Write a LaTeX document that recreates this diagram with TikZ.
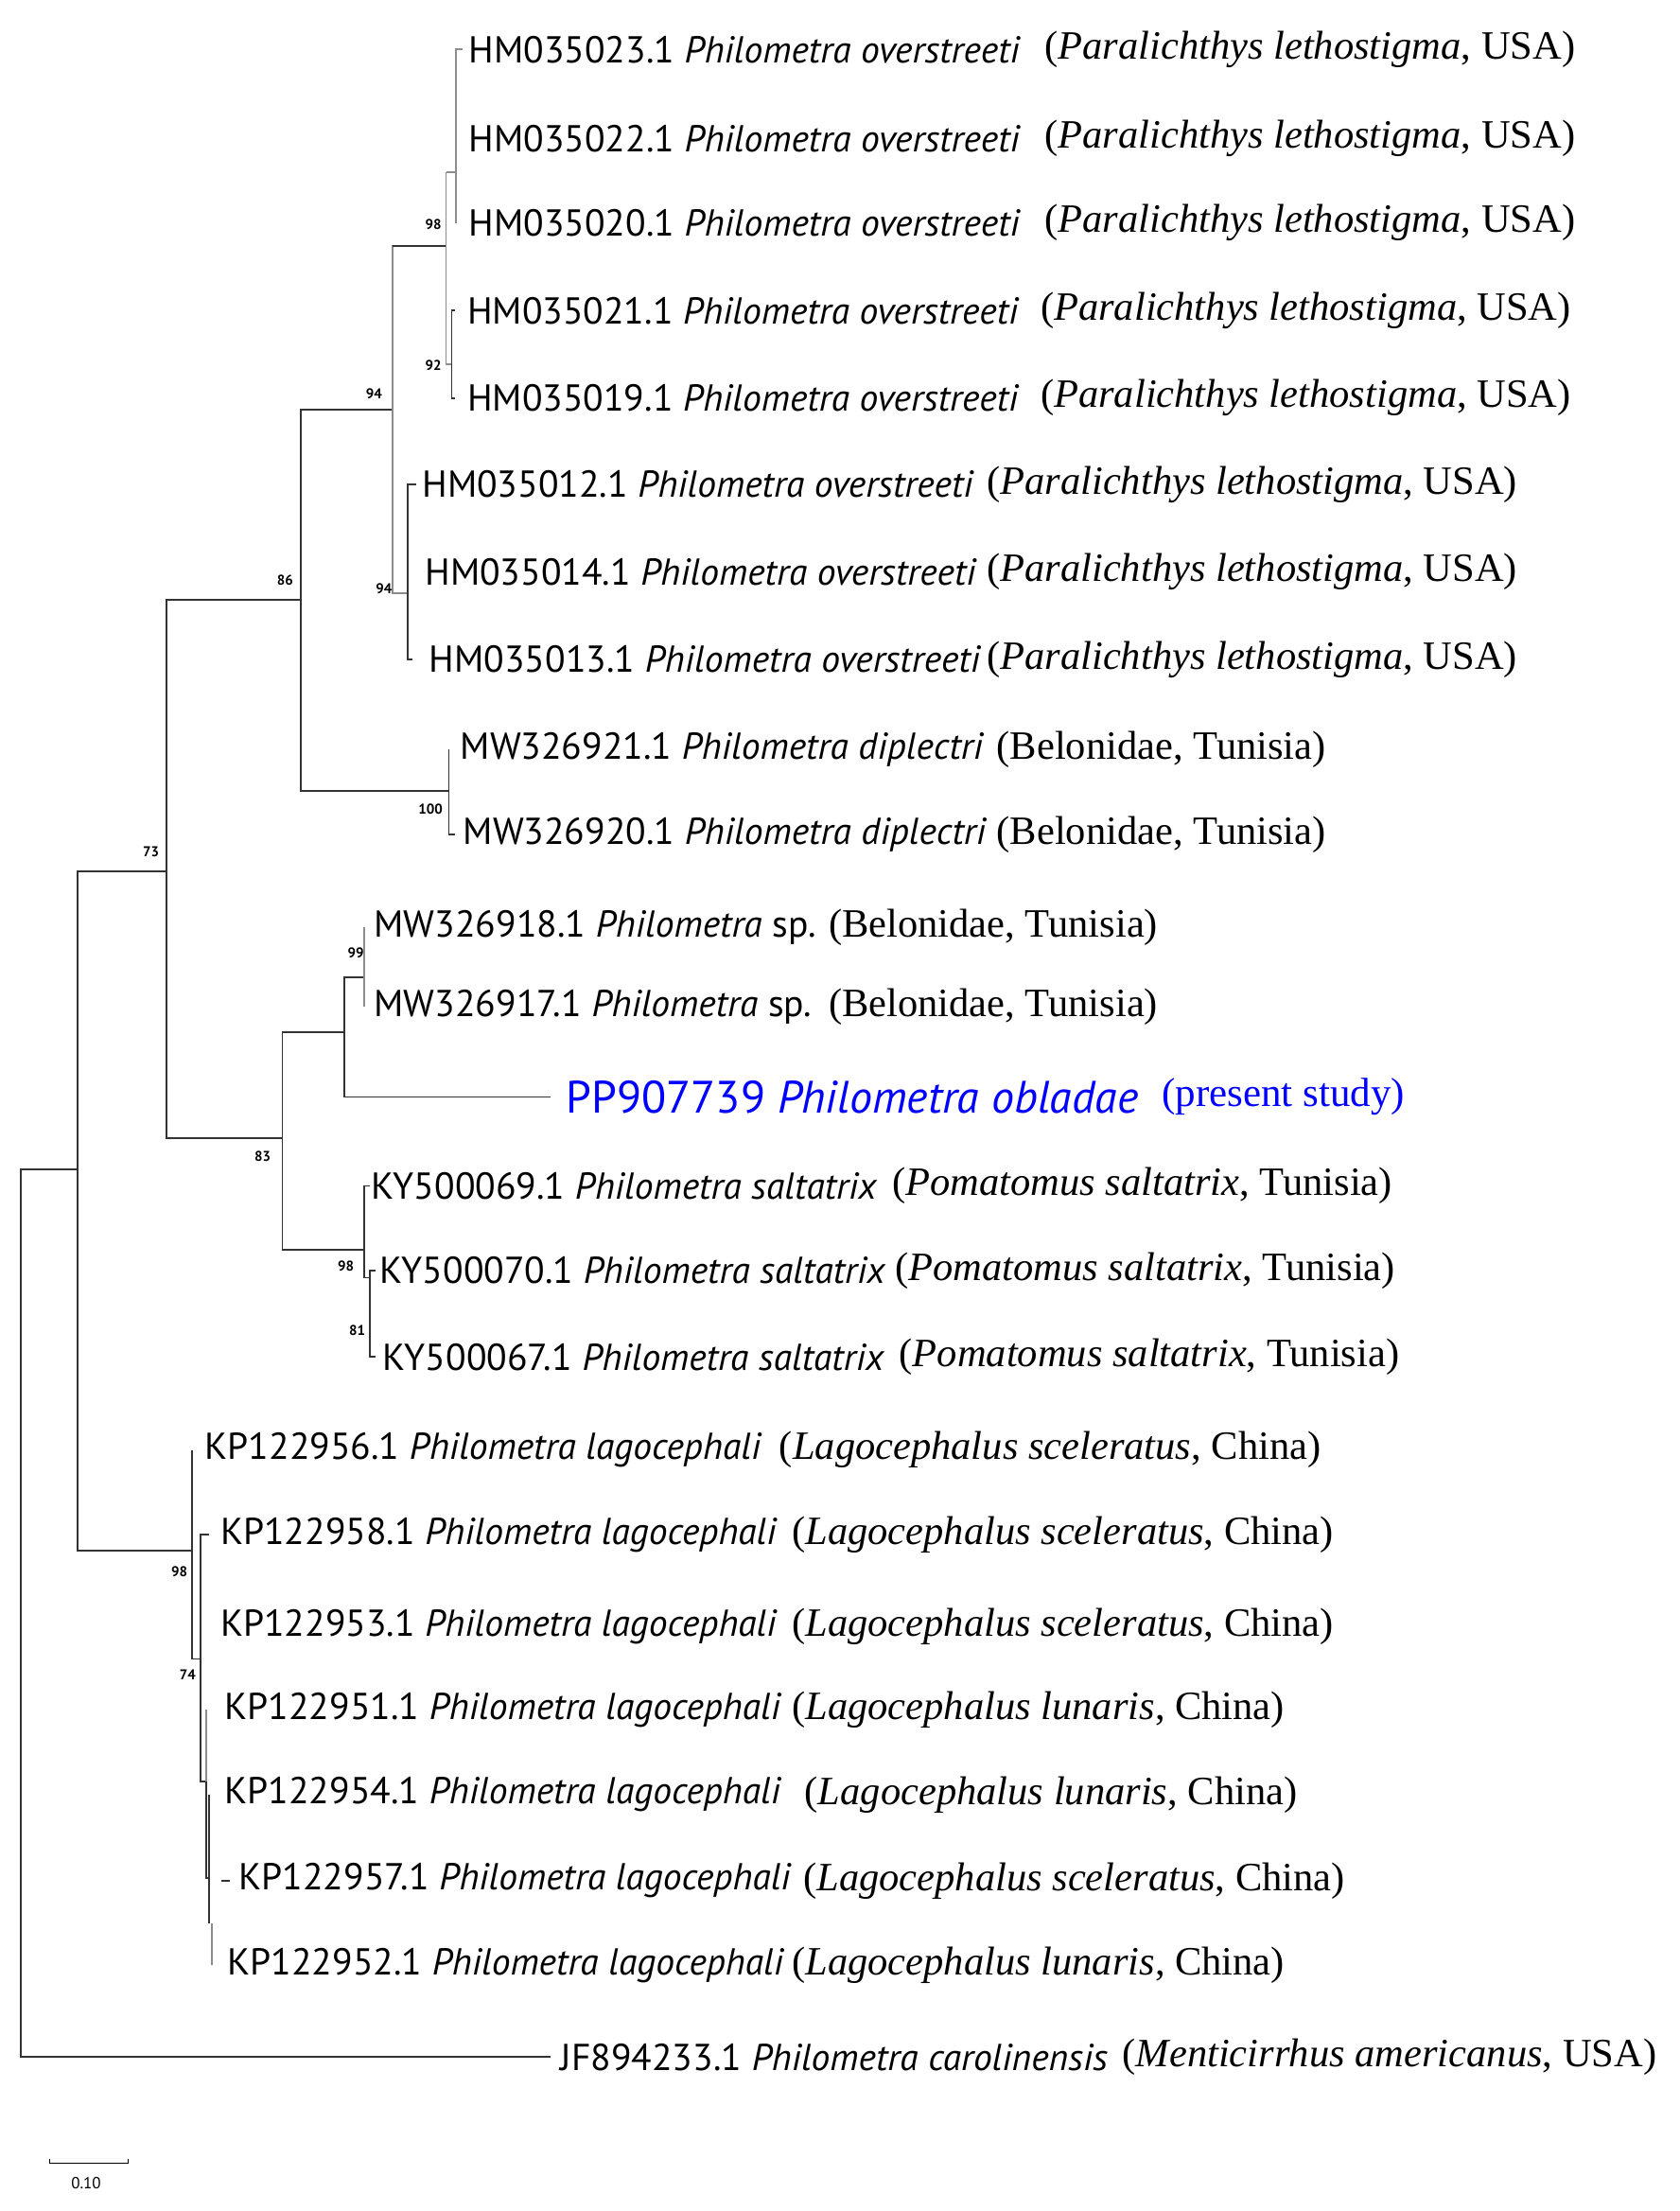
\documentclass[tikz,border=0pt]{standalone}
\usepackage{fontspec}
\setmainfont{Liberation Serif}
\newfontfamily\labsans{PT Sans}
\begin{document}
\begin{tikzpicture}[x=1.4925pt,y=-1.4925pt,
  br/.style={line width=1.8pt,draw=black!80},
  lb/.style={line width=1.8pt,draw=black!45},
  tip/.style={anchor=west,inner sep=0pt,font=\labsans\fontsize{39.6}{42}\selectfont},
  host/.style={anchor=west,inner sep=0pt,font=\fontsize{42.5}{46}\selectfont},
  bs/.style={inner sep=0pt,font=\labsans\bfseries\fontsize{15}{16}\selectfont}]
\useasboundingbox (0,0) rectangle (1190,1566);
% root
\draw[br] (55,828) -| (15,1457) -- (390,1457);
\draw[br] (15,828) -- (55,828);
\draw[br] (118,617) -| (55,1098) -- (136,1098);
\draw[br] (55,617) -- (118,617);
\draw[br] (213,425) -| (118,806) -- (200,806);
\draw[br] (118,425) -- (213,425);
\draw[br] (278,290) -| (213,560) -- (318,560);
\draw[br] (213,290) -- (278,290);
\draw[lb] (316,174) -| (278,420) -- (289,420);
\draw[br] (278,174) -- (316,174);
\draw[lb] (323,122) |- (316,122);
\draw[lb] (316,122) -- (316,258) -- (320,258);
\draw[lb] (328,35) -- (323,35) -- (323,158);
\draw[br] (322,220) -- (320,220) -- (320,282) -- (322,282);
\draw[br] (295,343) -- (289,343) -- (289,467) -- (292,467);
\draw[br] (318,531) -- (318,591) -- (322,591);
% 83 clade
\draw[br] (244,731) -| (200,885) -- (258,885);
\draw[br] (200,731) -- (244,731);
\draw[br] (258,692) -| (244,777) -- (390,777);
\draw[br] (244,692) -- (258,692);
\draw[lb] (258,657) -- (258,713);
\draw[br] (262,840) -- (258,840) -- (258,905) -- (262,905);
\draw[br] (266,900) -- (262,900) -- (262,961) -- (266,961);
% KP clade
\draw[br] (136,1027) -- (136,1175) -- (142,1175);
\draw[br] (148,1087) -- (142,1087) -- (142,1262) -- (146,1262);
\draw[lb] (146,1211) -- (146,1330);
\draw[br] (146,1262) -- (146,1330) -- (148,1330);
\draw[br] (148,1271) -- (148,1362);
\draw[br] (163,1332) -- (157,1332);
\draw[lb] (150,1362) -- (150,1392);
% bootstrap
\foreach \x/\y/\t in {307/159/98,307/259/92,265/279/94,272/417/94,202/411/86,305/573/100,107/603/73,252/675/99,186/819/83,245/897/98,253/942/81,127/1113/98,133/1186/74}
  \node[bs] at (\x,\y) {\t};
% tips
\foreach \y/\id/\xs/\xh in {35/HM035023.1/332/740,98/HM035022.1/332/740,158/HM035020.1/332/740,220/HM035021.1/331/737,282/HM035019.1/331/737}
 {\node[tip] at (\xs,\y) {\id{} \textit{Philometra overstreeti}};
  \node[host] at (\xh,\y) {(\textit{Paralichthys lethostigma}, USA)};}
\foreach \y/\id/\xs in {343/HM035012.1/299,405/HM035014.1/301,467/HM035013.1/304}
 {\node[tip] at (\xs,\y) {\id{} \textit{Philometra overstreeti}};
  \node[host] at (699,\y) {(\textit{Paralichthys lethostigma}, USA)};}
\node[tip] at (326,531) {MW326921.1 \textit{Philometra diplectri}};
\node[host] at (706,531) {(Belonidae, Tunisia)};
\node[tip] at (328,591) {MW326920.1 \textit{Philometra diplectri}};
\node[host] at (706,591) {(Belonidae, Tunisia)};
\node[tip] at (265,657) {MW326918.1 \textit{Philometra} sp.};
\node[host] at (587,657) {(Belonidae, Tunisia)};
\node[tip] at (265,713) {MW326917.1 \textit{Philometra} sp.};
\node[host] at (587,713) {(Belonidae, Tunisia)};
\node[tip,text=blue,font=\labsans\fontsize{48}{50}\selectfont] at (401,777) {PP907739 \textit{Philometra obladae}};
\node[host,text=blue,font=\fontsize{43}{46}\selectfont] at (823,777) {(present study)};
\foreach \y/\id/\xs/\xh in {840/KY500069.1/263/632,900/KY500070.1/269/634,961/KY500067.1/271/637}
 {\node[tip] at (\xs,\y) {\id{} \textit{Philometra saltatrix}};
  \node[host] at (\xh,\y) {(\textit{Pomatomus saltatrix}, Tunisia)};}
\foreach \y/\id/\xs/\xh/\hs in {1027/KP122956.1/145/552/sceleratus,1087/KP122958.1/156/561/sceleratus,1152/KP122953.1/156/561/sceleratus,1211/KP122951.1/159/561/lunaris,1271/KP122954.1/159/570/lunaris,1332/KP122957.1/169/569/sceleratus,1392/KP122952.1/161/561/lunaris}
 {\node[tip] at (\xs,\y) {\id{} \textit{Philometra lagocephali}};
  \node[host] at (\xh,\y) {(\textit{Lagocephalus \hs}, China)};}
\node[tip] at (397,1457) {JF894233.1 \textit{Philometra carolinensis}};
\node[host] at (795,1457) {(\textit{Menticirrhus americanus}, USA)};
% scale bar
\draw[line width=1.2pt] (35,1529) -- (35,1532) -- (91,1532) -- (91,1529);
\node[inner sep=0pt,font=\labsans\fontsize{17}{18}\selectfont] at (61,1546) {0.10};
\end{tikzpicture}
\end{document}
